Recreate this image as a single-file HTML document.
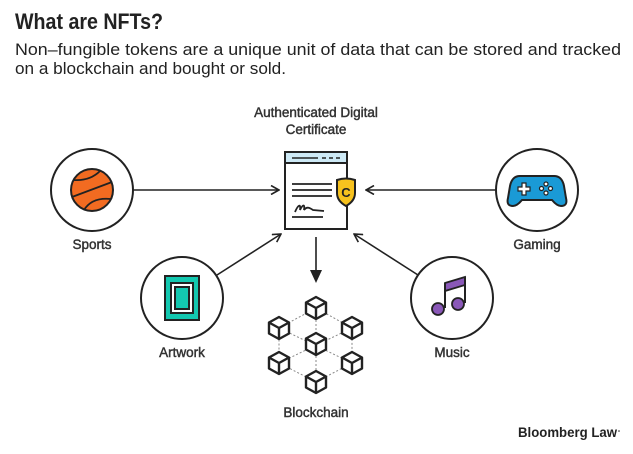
<!DOCTYPE html>
<html><head><meta charset="utf-8"><style>
html,body{margin:0;padding:0;background:#fff}
svg{display:block}
text{font-family:"Liberation Sans",sans-serif;fill:#222}
.lb{stroke:#333;stroke-width:0.45;fill:#333}
</style></head><body>
<svg width="633" height="454" viewBox="0 0 633 454" xmlns="http://www.w3.org/2000/svg">
<defs>
<marker id="ah" markerWidth="10" markerHeight="10" refX="9" refY="5" orient="auto" markerUnits="userSpaceOnUse">
<path d="M1,0.5 L9,5 L1,9.5" fill="none" stroke="#222" stroke-width="1.6"/>
</marker>
<g id="cube" fill="#fff" stroke="#222" stroke-width="2.4" stroke-linejoin="round">
<path d="M0,-11 L10,-5.5 L10,5.5 L0,11 L-10,5.5 L-10,-5.5 Z"/>
<path d="M-10,-5.5 L0,0 L10,-5.5 M0,0 L0,11" fill="none"/>
</g>
</defs>
<text x="15" y="29" font-size="22" font-weight="bold" textLength="148" lengthAdjust="spacingAndGlyphs" style="fill:#222">What are NFTs?</text>
<text x="15" y="55" font-size="16.5" textLength="606" lengthAdjust="spacingAndGlyphs">Non–fungible tokens are a unique unit of data that can be stored and tracked</text>
<text x="15" y="74" font-size="16.5" textLength="271" lengthAdjust="spacingAndGlyphs">on a blockchain and bought or sold.</text>

<text class="lb" x="316" y="117" font-size="13.5" text-anchor="middle">Authenticated Digital</text>
<text class="lb" x="316" y="134" font-size="13.5" text-anchor="middle">Certificate</text>

<g stroke="#222" stroke-width="1.6" fill="none">
<line x1="133" y1="190" x2="279" y2="190" marker-end="url(#ah)"/>
<line x1="496" y1="190" x2="366" y2="190" marker-end="url(#ah)"/>
<line x1="217" y1="275" x2="281" y2="234" marker-end="url(#ah)"/>
<line x1="418" y1="275" x2="354" y2="234" marker-end="url(#ah)"/>
<line x1="316" y1="237" x2="316" y2="272"/>
</g>
<path d="M310,270 L322,270 L316,283 Z" fill="#222"/>

<rect x="285" y="152" width="62" height="77" fill="#fff" stroke="#222" stroke-width="2"/>
<rect x="286" y="153" width="60" height="10" fill="#cde9f5"/>
<line x1="285" y1="163" x2="347" y2="163" stroke="#222" stroke-width="2"/>
<line x1="292" y1="158" x2="318" y2="158" stroke="#222" stroke-width="1.6"/>
<line x1="322" y1="158" x2="343" y2="158" stroke="#222" stroke-width="1.6" stroke-dasharray="4,3"/>
<g stroke="#222" stroke-width="1.8">
<line x1="292" y1="184" x2="332" y2="184"/>
<line x1="292" y1="190" x2="332" y2="190"/>
<line x1="292" y1="196" x2="332" y2="196"/>
<line x1="292" y1="217" x2="323" y2="217"/>
</g>
<path d="M295,212 C298,205 301,203 300,210 C303,204 305,204 304,210 C307,206 310,208 313,210 L324,211" fill="none" stroke="#222" stroke-width="1.8"/>
<path d="M337,180 Q346,177 355,180 L355,193 Q355,201 346,206 Q337,201 337,193 Z" fill="#f7c21e" stroke="#222" stroke-width="2"/>
<text x="346" y="197" font-size="13" font-weight="bold" text-anchor="middle" style="fill:#222">C</text>

<g stroke="#888" stroke-width="1" stroke-dasharray="2,2" fill="none">
<path d="M316,308 L352,328 L352,363 L316,382 L279,363 L279,328 Z"/>
<path d="M316,308 L316,382 M279,328 L352,363 M352,328 L279,363"/>
</g>
<use href="#cube" x="316" y="308"/>
<use href="#cube" x="279" y="328"/>
<use href="#cube" x="352" y="328"/>
<use href="#cube" x="316" y="344"/>
<use href="#cube" x="279" y="363"/>
<use href="#cube" x="352" y="363"/>
<use href="#cube" x="316" y="382"/>
<text class="lb" x="316" y="417" font-size="13.5" text-anchor="middle">Blockchain</text>

<g fill="#fff" stroke="#222" stroke-width="2">
<circle cx="92" cy="190" r="41"/>
<circle cx="182" cy="298" r="41"/>
<circle cx="537" cy="190" r="41"/>
<circle cx="452" cy="298" r="41"/>
</g>

<circle cx="92" cy="190" r="21" fill="#f26b21" stroke="#222" stroke-width="2"/>
<g fill="none" stroke="#222" stroke-width="1.8">
<line x1="72" y1="197" x2="112" y2="182"/>
<path d="M74,180 Q90,181 100,171"/>
<path d="M84,210 Q92,197 111,199"/>
</g>
<text class="lb" x="92" y="249" font-size="13.5" text-anchor="middle">Sports</text>

<rect x="165" y="276" width="34" height="44" fill="#13c8b0" stroke="#222" stroke-width="2"/>
<rect x="171" y="283" width="22" height="30" fill="#fff" stroke="#222" stroke-width="2"/>
<rect x="175" y="287" width="14" height="22" fill="#13c8b0" stroke="#222" stroke-width="2"/>
<text class="lb" x="182" y="357" font-size="13.5" text-anchor="middle">Artwork</text>

<path d="M520,176 L554,176 Q562,176 564,186 L566,198 Q568,206 561,206 Q557,206 552,200 L522,200 Q517,206 513,206 Q506,206 508,198 L510,186 Q512,176 520,176 Z" fill="#1a9ad6" stroke="#222" stroke-width="2"/>
<path d="M522,183 h4 v4 h4 v4 h-4 v4 h-4 v-4 h-4 v-4 h4 Z" fill="#fff" stroke="#222" stroke-width="1.2"/>
<g fill="#fff" stroke="#222" stroke-width="1.2">
<circle cx="546" cy="184" r="2"/><circle cx="546" cy="193" r="2"/>
<circle cx="541.5" cy="188.5" r="2"/><circle cx="550.5" cy="188.5" r="2"/>
</g>
<text class="lb" x="537" y="249" font-size="13.5" text-anchor="middle">Gaming</text>

<path d="M445,283 L465,277 L465,285 L445,291 Z" fill="#8a58b8" stroke="#222" stroke-width="1.8"/>
<line x1="445" y1="283" x2="445" y2="308" stroke="#222" stroke-width="2"/>
<line x1="465" y1="277" x2="465" y2="303" stroke="#222" stroke-width="2"/>
<circle cx="438" cy="309" r="6" fill="#8a58b8" stroke="#222" stroke-width="1.8"/>
<circle cx="458" cy="304" r="6" fill="#8a58b8" stroke="#222" stroke-width="1.8"/>
<text class="lb" x="452" y="357" font-size="13.5" text-anchor="middle">Music</text>

<text x="518" y="437" font-size="13.5" font-weight="bold" textLength="99" lengthAdjust="spacingAndGlyphs" style="fill:#222">Bloomberg Law</text>
<circle cx="619" cy="431" r="0.8" fill="#222"/>
</svg>
</body></html>
